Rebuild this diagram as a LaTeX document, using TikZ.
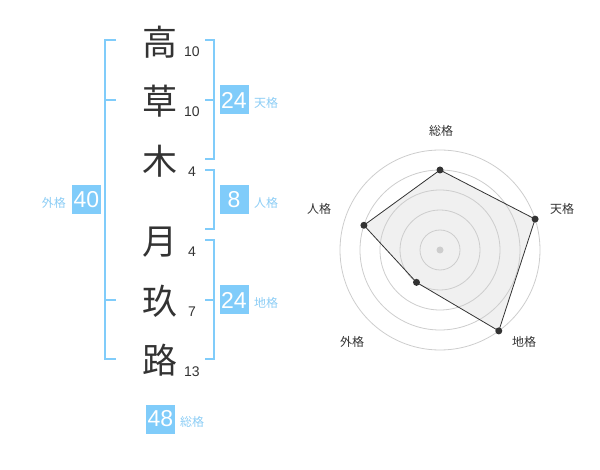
\documentclass[tikz,border=0pt]{standalone}
\usepackage{fontspec}
\setmainfont{Liberation Sans}
\newfontfamily\cjk{Noto Sans CJK JP}
\definecolor{bl}{RGB}{128,204,250}
\definecolor{bltext}{RGB}{140,205,245}
\definecolor{dk}{RGB}{51,51,51}
\definecolor{ring}{RGB}{205,205,205}
\definecolor{fillg}{RGB}{240,240,240}
\begin{document}
\begin{tikzpicture}[x=1pt,y=-1pt,
  kanji/.style={font=\cjk\fontsize{35}{35}\selectfont, text=dk, inner sep=0pt},
  strokes/.style={font=\fontsize{14}{14}\selectfont, text=dk, inner sep=0pt},
  valbox/.style={fill=bl, text=white, font=\fontsize{23}{23}\selectfont, minimum width=29pt, minimum height=29pt, inner sep=0pt},
  kaku/.style={font=\cjk\fontsize{12}{12}\selectfont, text=bltext, inner sep=0pt},
  brk/.style={draw=bl, line width=2pt},
  rlabel/.style={font=\cjk\fontsize{12}{12}\selectfont, text=dk, inner sep=0pt},
  rdot/.style={circle, fill=dk, inner sep=0pt, minimum size=7pt}]
\useasboundingbox (0,0) rectangle (600,470);
% kanji
\node[kanji] (k1) at (160,42) {高};
\node[kanji] (k2) at (160,101) {草};
\node[kanji] (k3) at (160,161) {木};
\node[kanji] (k4) at (160,242) {月};
\node[kanji] (k5) at (160,301) {玖};
\node[kanji] (k6) at (160,360) {路};
% stroke counts
\node[strokes] (s1) at (192,52) {10};
\node[strokes] (s2) at (192,112) {10};
\node[strokes] (s3) at (192,172) {4};
\node[strokes] (s4) at (192,252) {4};
\node[strokes] (s5) at (192,312) {7};
\node[strokes] (s6) at (192,372) {13};
% left bracket (gaikaku)
\draw[brk] (116,40) -- (105,40) -- (105,359) -- (116,359);
\draw[brk] (105,100) -- (116,100);
\draw[brk] (105,300) -- (116,300);
% right brackets
\draw[brk] (205,40) -- (214,40) -- (214,159) -- (205,159);
\draw[brk] (205,100) -- (214,100);
\draw[brk] (205,170) -- (214,170) -- (214,229) -- (205,229);
\draw[brk] (205,240) -- (214,240) -- (214,359) -- (205,359);
\draw[brk] (205,300) -- (214,300);
% boxes
\node[valbox] (b40) at (86.5,200) {40};
\node[kaku, anchor=east] (l40) at (66,203) {外格};
\node[valbox] (b24a) at (234,100) {24};
\node[kaku, anchor=west] (l24a) at (254,103) {天格};
\node[valbox] (b8) at (234,200) {8};
\node[kaku, anchor=west] (l8) at (254,203) {人格};
\node[valbox] (b24b) at (234,300) {24};
\node[kaku, anchor=west] (l24b) at (254,303) {地格};
\node[valbox] (b48) at (160.5,419) {48};
\node[kaku, anchor=west] (l48) at (180,422) {総格};
% radar
\coordinate (c) at (440,250);
\path (c) ++(0,-80) coordinate (pA);
\path (c) ++({100*cos(18)},{-100*sin(18)}) coordinate (pB);
\path (c) ++({100*cos(54)},{100*sin(54)}) coordinate (pC);
\path (c) ++({-40*cos(54)},{40*sin(54)}) coordinate (pD);
\path (c) ++({-80*cos(18)},{-80*sin(18)}) coordinate (pE);
\fill[fillg] (pA) -- (pB) -- (pC) -- (pD) -- (pE) -- cycle;
\foreach \r in {20,40,60,80,100} \draw[ring, line width=0.8pt] (c) circle[radius=\r];
\fill[ring] (c) circle[radius=3.5];
\draw[dk, line width=0.8pt] (pA) -- (pB) -- (pC) -- (pD) -- (pE) -- cycle;
\foreach \p in {pA,pB,pC,pD,pE} \node[rdot] at (\p) {};
\node[rlabel] (r1) at (441,131) {総格};
\node[rlabel] (r2) at (562,209) {天格};
\node[rlabel] (r3) at (524,342) {地格};
\node[rlabel] (r4) at (352,342) {外格};
\node[rlabel] (r5) at (319,209) {人格};
\end{tikzpicture}
\end{document}
